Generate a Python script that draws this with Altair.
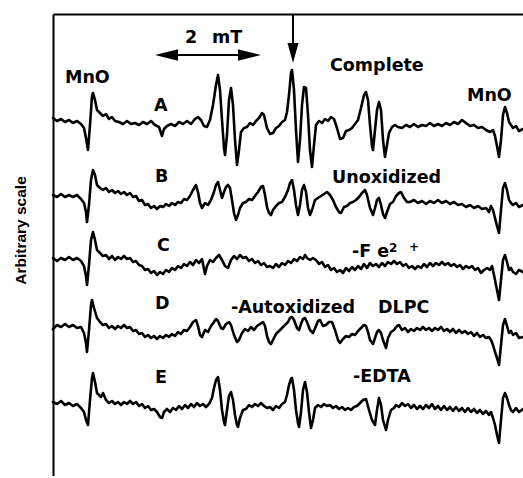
import altair as alt
import pandas as pd

# ---- spectra: field position (channel, 0..470) and signal (arbitrary units) ----
A_x = [0,4,8,12,16,20,24,28,31,33,
       35,37,39,40,42,44,47,50,53,56,
       59,62,66,70,74,78,82,86,90,94,
       98,102,106,109,111,114,118,122,126,130,
       134,138,142,145,148,151,154,157,160,163,
       165,167,169,171,172,174,176,178,180,182,
       184,186,188,191,194,197,200,203,206,209,
       211,214,217,220,223,226,229,232,234,236,
       238,239,241,243,245,247,249,251,253,255,
       257,259,261,263,266,269,272,275,278,281,
       284,287,290,293,296,299,302,305,308,311,
       313,315,317,319,320,322,324,326,328,330,
       332,334,336,339,342,345,349,353,357,361,
       365,369,373,377,381,385,389,393,397,401,
       405,409,413,417,421,425,429,433,437,440,
       442,444,446,448,450,452,454,456,458,460,
       463,466,470]
A_y = [4,1,3,0,2,-1,1,-2,-6,-16,
       -28,-3,26,29,22,12,9,6,8,3,
       5,1,0,-2,1,-2,-1,-3,0,-2,
       1,-3,-5,-14,-7,-4,-2,-4,0,-2,
       1,-2,3,5,2,-4,-5,2,17,37,
       47,32,2,-26,-33,-13,22,34,17,-18,
       -43,-28,-10,-6,-5,-1,-3,1,4,9,
       7,-6,-12,-11,-6,-4,0,2,10,27,
       49,52,32,-8,-40,-18,17,35,34,7,
       -28,-45,-23,-3,1,-1,3,1,5,3,
       -6,-17,-16,-9,-8,-6,-2,2,14,27,
       30,22,-3,-24,-28,-8,12,20,12,-18,
       -35,-23,-11,-5,-3,-5,-6,-3,-5,-2,
       -5,-3,-4,-1,-4,-2,-4,-1,-3,0,
       -2,2,-1,-4,-3,-6,-5,-8,-10,-8,
       -14,-24,-35,-18,7,15,9,0,-3,-6,
       -4,-9,-7]

B_x = [0,4,8,12,16,20,24,28,31,33,
       34,36,38,40,42,44,47,50,53,56,
       59,62,65,68,71,74,77,80,83,86,
       89,92,95,98,101,104,107,110,113,116,
       119,122,125,128,131,134,137,140,143,145,
       147,149,152,155,158,161,163,165,167,169,
       171,173,175,177,179,181,183,185,187,190,
       193,196,199,202,205,208,210,212,214,216,
       218,220,223,226,229,232,235,237,239,241,
       243,245,247,249,251,253,255,257,259,262,
       265,268,271,274,277,280,283,286,288,291,
       294,297,300,303,306,309,312,314,317,320,
       322,324,326,328,330,332,334,337,340,343,
       346,348,351,354,357,361,365,369,373,377,
       381,385,389,393,397,401,405,409,413,417,
       421,425,429,433,436,438,440,442,444,446,
       448,450,452,454,456,458,460,463,466,470]
B_y = [5,3,6,3,5,3,5,1,-3,-12,
       -22,-5,20,30,25,15,12,10,12,8,
       10,7,9,6,8,5,7,3,4,-1,
       0,-5,-4,-8,-6,-9,-6,-7,-4,-6,
       -3,-5,-2,-3,1,0,4,10,15,8,
       -3,-8,-3,-5,0,8,15,18,10,2,
       8,13,15,12,0,-13,-20,-15,-8,-3,
       -2,1,0,4,8,13,14,5,-7,-13,
       -15,-10,-6,-3,-2,3,10,17,20,10,
       -5,-15,-5,10,15,8,-8,-15,-10,0,
       2,4,6,8,5,0,-7,-12,-13,-7,
       -6,-3,-2,0,3,7,10,5,-8,-15,
       -8,0,2,-5,-14,-18,-12,-4,-2,4,
       7,8,2,-2,-2,0,-3,-1,-4,-1,
       -3,0,-3,-1,-4,-2,-5,-4,-7,-5,
       -8,-6,-9,-8,-12,-6,-10,-18,-26,-33,
       -10,12,17,10,0,-3,-5,-3,-7,-5]

C_x = [0,4,8,12,16,20,24,28,31,33,
       34,36,38,40,42,44,47,50,53,56,
       59,62,65,68,71,74,77,80,83,86,
       89,92,95,98,101,104,107,110,113,116,
       119,122,125,128,131,134,137,140,143,146,
       149,152,154,157,160,163,166,169,172,175,
       178,181,184,187,190,193,196,199,202,205,
       208,211,214,217,220,223,226,229,232,235,
       238,241,244,247,250,252,254,257,260,263,
       266,269,272,275,278,281,284,287,290,293,
       296,299,302,305,308,311,314,317,320,323,
       326,329,332,335,338,341,344,347,350,353,
       356,359,362,365,368,371,374,377,380,383,
       386,389,392,395,398,401,404,407,410,413,
       416,419,422,425,428,431,434,437,439,441,
       443,445,446,448,450,452,454,456,458,460,
       463,466,470]
C_y = [4,1,4,2,5,2,4,1,-4,-14,
       -23,-3,22,30,22,12,9,6,7,3,
       6,2,5,3,6,3,4,0,1,-3,
       -4,-8,-7,-11,-9,-13,-10,-12,-8,-10,
       -6,-8,-4,-6,-2,-4,0,-3,2,-1,
       3,-12,-4,2,0,4,7,2,-4,-6,
       2,6,3,7,4,5,1,3,-1,1,
       -3,-1,-5,-4,-6,-2,-5,-1,-3,1,
       -1,3,1,5,3,7,4,2,4,2,
       -2,0,-5,-3,-8,-6,-10,-8,-11,-6,
       -9,-5,-8,-4,-7,-2,-6,-1,-4,-2,
       -5,-1,-4,0,-2,1,-2,0,-4,-2,
       -6,-4,-7,-4,-6,-2,-5,-1,-4,-1,
       -3,0,-3,-1,-4,-2,-5,-3,-7,-4,
       -6,-4,-8,-6,-11,-8,-6,-8,-4,-13,
       -23,-33,-38,-18,2,7,0,-8,-6,-10,
       -12,-8,-10]

D_x = [0,4,8,12,16,20,24,28,31,33,
       34,36,38,39,41,44,47,50,53,56,
       59,62,65,68,71,74,77,80,83,86,
       89,92,95,98,101,104,107,110,113,116,
       119,122,125,128,131,134,137,140,143,145,
       147,149,152,155,158,161,163,165,168,170,
       173,176,178,181,184,186,189,192,195,198,
       201,204,207,210,212,214,216,218,220,223,
       226,229,232,235,237,239,241,244,246,248,
       250,252,254,257,260,263,265,267,270,273,
       276,279,282,285,287,290,293,296,299,302,
       305,308,311,313,315,317,320,322,324,326,
       328,330,333,335,338,341,344,346,349,352,
       355,358,361,364,367,370,373,376,379,382,
       385,388,391,394,397,400,403,406,409,412,
       415,418,421,424,427,430,433,436,438,440,
       442,444,446,448,450,452,454,456,458,460,
       463,466,470]
D_y = [-1,3,1,4,1,3,0,1,-5,-15,
       -24,-2,23,28,20,10,6,3,4,0,
       2,-1,2,0,3,0,1,-3,-2,-6,
       -5,-9,-7,-10,-8,-11,-8,-10,-7,-9,
       -6,-8,-4,-6,-2,-3,1,6,8,2,
       -7,-9,-2,-4,2,6,9,7,0,-1,
       4,6,3,-7,-14,-12,-5,-1,-3,1,
       -2,2,4,6,2,-8,-14,-16,-12,-6,
       -3,0,3,6,10,11,8,0,-2,4,
       9,10,6,-2,-5,2,7,8,2,3,
       6,6,-2,-12,-15,-11,-8,-9,-6,-7,
       -3,0,3,2,-4,-12,-16,-10,-4,-2,
       -5,-12,-20,-10,-4,-2,2,3,-2,0,
       -4,-1,-3,0,-2,1,-2,0,-3,0,
       -2,1,-3,-1,-4,-1,-5,-2,-5,-3,
       -6,-4,-8,-5,-9,-7,-10,-9,-12,-17,
       -24,-30,-37,-17,3,9,2,-5,-3,-7,
       -5,-10,-9]

E_x = [0,4,8,12,16,20,24,28,31,33,
       35,37,39,40,42,44,46,48,50,53,
       56,59,62,65,68,71,74,77,80,83,
       86,89,92,95,98,101,104,107,109,111,
       114,117,120,123,126,129,132,135,138,141,
       144,147,150,153,156,159,161,163,165,167,
       169,171,172,174,176,178,180,182,184,185,
       187,190,193,196,199,202,205,208,211,214,
       217,220,223,226,229,232,234,236,238,239,
       241,243,245,246,248,250,252,254,256,258,
       260,262,265,268,271,274,277,280,283,286,
       289,292,295,298,301,304,307,310,313,316,
       319,322,324,326,328,330,333,335,338,341,
       343,346,349,352,355,358,361,364,367,370,
       373,376,379,382,385,388,391,394,397,400,
       403,406,409,412,415,418,421,424,427,430,
       433,436,438,440,442,444,446,448,450,452,
       454,456,458,460,463,466,470]
E_y = [3,1,4,0,2,-1,1,-3,-7,-15,
       -20,5,27,32,23,12,10,8,12,5,
       2,4,1,3,0,3,1,4,1,3,
       -1,1,-3,-1,-5,-4,-7,-12,-13,-7,
       -4,-7,-3,-5,-1,-4,0,-3,1,-2,
       2,-1,1,-2,1,7,17,25,28,15,
       -5,-17,-20,-5,9,13,5,-10,-20,-22,
       -13,-5,-4,0,-2,1,-1,2,-1,-3,
       -2,-5,-1,-3,1,3,10,20,26,27,
       15,-5,-18,-22,-7,15,23,13,-7,-23,
       -15,-3,0,-2,1,-1,0,-3,-1,-4,
       -2,-5,-3,-5,-2,-1,2,5,6,-5,
       -15,-20,-5,7,0,-15,-25,-15,-5,-3,
       0,-2,2,-1,1,-3,0,-4,-1,-4,
       0,-3,1,-4,-1,-5,-1,-5,-2,-6,
       -2,-6,-3,-7,-3,-7,-4,-8,-5,-9,
       -6,-10,-7,-13,-20,-30,-38,-15,7,12,
       7,0,-5,-7,-3,-7,-4]

trace_names = ["A", "B", "C", "D", "E"]
trace_offsets = [356, 278, 216, 150, 73]

# ---- annotation texts ----
label_text = ["MnO", "A", "2", "mT", "Complete", "MnO", "B", "Unoxidized",
              "C", "-F e", "D", "-Autoxidized", "DLPC", "E", "-EDTA"]
label_x = [12, 101, 132, 159, 277, 414, 102, 279, 104, 299, 102, 178, 325, 102, 300]
label_v = [395, 367, 435, 435, 407, 377, 296, 295, 227, 221, 169, 165, 165, 95, 96]

sup_text = ["2", "+"]
sup_x = [336, 356]
sup_v = [226, 227]

# arrows: "2 mT" scale bar and the down arrow marking the line
shaft_x = [112, 240]
shaft_x2 = [198, 240]
shaft_v = [423, 463]
shaft_v2 = [423, 433]
head_x = [113.5, 196.5, 240]
head_v = [423, 423, 425]
head_shape = ["M-1,0L1,-0.5L1,0.5Z", "M1,0L-1,-0.5L-1,0.5Z", "M0,1L-0.55,-1L0.55,-1Z"]
head_size = [529, 529, 400]

rows = []
for name, off, xs_, ys_ in zip(trace_names, trace_offsets,
                               [A_x, B_x, C_x, D_x, E_x],
                               [A_y, B_y, C_y, D_y, E_y]):
    assert len(xs_) == len(ys_), name
    for xv, yv in zip(xs_, ys_):
        rows.append({"trace": name, "field": xv, "signal": off + yv})
spec_df = pd.DataFrame(rows)

lab_df = pd.DataFrame({"field": label_x, "signal": label_v, "text": label_text})
sup_df = pd.DataFrame({"field": sup_x, "signal": sup_v, "text": sup_text})
shaft_df = pd.DataFrame({"field": shaft_x, "x2": shaft_x2, "signal": shaft_v, "v2": shaft_v2})
head_df = pd.DataFrame({"field": head_x, "signal": head_v, "shape": head_shape, "size": head_size})

xsc = alt.Scale(domain=[0, 470], nice=False, zero=False)
ysc = alt.Scale(domain=[2, 464], nice=False, zero=False)

x_axis = alt.Axis(orient="top", title=None, labels=False, ticks=False, grid=False,
                  domain=True, domainColor="black", domainWidth=2)
y_axis = alt.Axis(orient="left", title="Arbitrary scale", labels=False, ticks=False, grid=False,
                  domain=True, domainColor="black", domainWidth=2,
                  titleFont="Liberation Sans", titleFontSize=15.5, titleFontWeight="bold",
                  titleColor="black", titleAngle=270, titleX=-27.5, titleY=216,
                  titleAlign="center", titleBaseline="alphabetic")

X = alt.X("field:Q", scale=xsc, axis=x_axis)
Y = alt.Y("signal:Q", scale=ysc, axis=y_axis)

lines = alt.Chart(spec_df).mark_line(
    color="black", strokeWidth=2.6, strokeJoin="round", strokeCap="round"
).encode(x=X, y=Y, detail="trace:N")

labels = alt.Chart(lab_df).mark_text(
    align="left", baseline="alphabetic", font="DejaVu Sans", fontWeight="bold",
    fontSize=17.5, color="black"
).encode(x=X, y=Y, text="text:N")

sups = alt.Chart(sup_df).mark_text(
    align="left", baseline="alphabetic", font="DejaVu Sans", fontWeight="bold",
    fontSize=12, color="black"
).encode(x=X, y=Y, text="text:N")

shafts = alt.Chart(shaft_df).mark_rule(color="black", strokeWidth=2).encode(
    x=X, x2="x2:Q", y=Y, y2="v2:Q"
)

heads = alt.Chart(head_df).mark_point(
    filled=True, color="black", opacity=1, strokeWidth=0
).encode(
    x=X, y=Y,
    shape=alt.Shape("shape:N", scale=None, legend=None),
    size=alt.Size("size:Q", scale=None, legend=None),
)

chart = alt.layer(lines, labels, sups, shafts, heads).properties(
    width=470, height=462,
    autosize=alt.AutoSizeParams(type="none"),
    padding={"left": 53, "top": 14, "right": 0, "bottom": 0},
    background="white",
).configure_view(stroke=None)

chart.save("out.html", embed_options={"renderer": "svg", "actions": False})
